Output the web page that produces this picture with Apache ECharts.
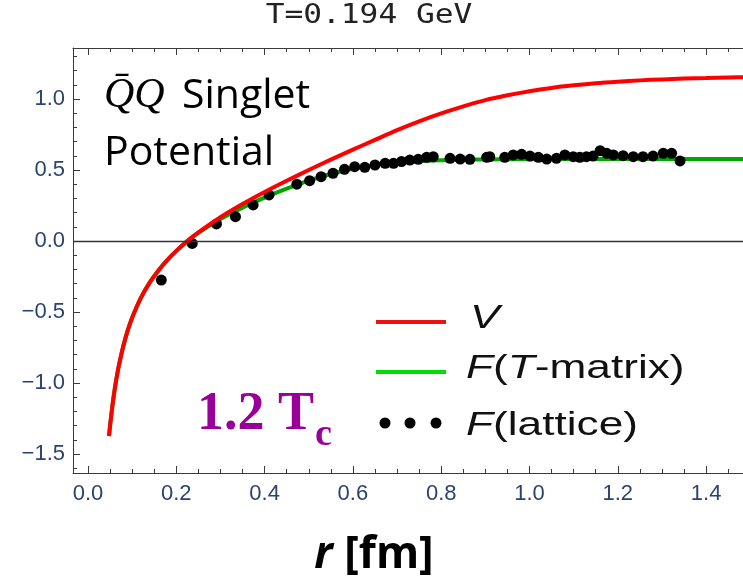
<!DOCTYPE html>
<html><head><meta charset="utf-8">
<script src="https://cdn.jsdelivr.net/npm/echarts@6/dist/echarts.min.js"></script>
<style>html,body{margin:0;padding:0;background:#fff}#c{width:743px;height:579px}</style>
</head><body><div id="c"></div>
<script>
// ---- data ----
const rV = [0.0476, 0.05, 0.055, 0.06, 0.065, 0.07, 0.08, 0.09, 0.10, 0.12, 0.14, 0.16, 0.18, 0.20, 0.225, 0.25, 0.30, 0.35, 0.40, 0.45, 0.50, 0.55, 0.60, 0.65, 0.70, 0.75, 0.80, 0.85, 0.90, 0.95, 1.00, 1.05, 1.10, 1.15, 1.20, 1.25, 1.30, 1.35, 1.40, 1.45, 1.50];
const V  = [-1.374, -1.300, -1.167, -1.055, -0.959, -0.876, -0.739, -0.630, -0.540, -0.399, -0.292, -0.206, -0.133, -0.070, -0.001, 0.060, 0.167, 0.260, 0.345, 0.424, 0.500, 0.573, 0.643, 0.712, 0.780, 0.842, 0.898, 0.948, 0.992, 1.026, 1.055, 1.078, 1.096, 1.111, 1.122, 1.131, 1.138, 1.144, 1.148, 1.152, 1.153];

const rF = [0.0476, 0.05, 0.055, 0.06, 0.065, 0.07, 0.08, 0.09, 0.10, 0.12, 0.14, 0.16, 0.18, 0.20, 0.225, 0.25, 0.30, 0.35, 0.40, 0.45, 0.50, 0.55, 0.60, 0.65, 0.70, 0.75, 0.80, 0.85, 0.90, 1.00, 1.20, 1.50];
const F  = [-1.374, -1.300, -1.167, -1.055, -0.959, -0.876, -0.739, -0.630, -0.540, -0.399, -0.292, -0.206, -0.133, -0.070, -0.001, 0.058, 0.155, 0.235, 0.305, 0.368, 0.425, 0.472, 0.508, 0.534, 0.551, 0.562, 0.568, 0.572, 0.574, 0.576, 0.577, 0.578];

const rLat = [0.166, 0.236, 0.291, 0.334, 0.374, 0.41, 0.473, 0.502, 0.528, 0.555, 0.581, 0.604, 0.627, 0.65, 0.673, 0.692, 0.710, 0.729, 0.748, 0.767, 0.782, 0.820, 0.843, 0.865, 0.903, 0.910, 0.944, 0.963, 0.982, 1.001, 1.020, 1.039, 1.061, 1.080, 1.099, 1.114, 1.129, 1.144, 1.160, 1.175, 1.190, 1.212, 1.235, 1.257, 1.280, 1.303, 1.322, 1.341];
const Flat = [-0.275, -0.017, 0.12, 0.171, 0.254, 0.324, 0.40, 0.425, 0.453, 0.477, 0.505, 0.523, 0.519, 0.535, 0.547, 0.547, 0.559, 0.570, 0.575, 0.589, 0.594, 0.582, 0.577, 0.575, 0.589, 0.594, 0.589, 0.606, 0.610, 0.598, 0.589, 0.577, 0.582, 0.606, 0.594, 0.589, 0.594, 0.598, 0.636, 0.617, 0.606, 0.601, 0.594, 0.594, 0.598, 0.617, 0.617, 0.564];

const xMajorTicks = [0, 0.2, 0.4, 0.6, 0.8, 1.0, 1.2, 1.4];
const xMinorTicks = [0.05, 0.1, 0.15, 0.25, 0.3, 0.35, 0.45, 0.5, 0.55, 0.65, 0.7, 0.75, 0.85, 0.9, 0.95, 1.05, 1.1, 1.15, 1.25, 1.3, 1.35, 1.45];
const yMajorTicks = [-1.5, -1.0, -0.5, 0, 0.5, 1.0];
const yMinorTicks = [-1.6, -1.4, -1.3, -1.2, -1.1, -0.9, -0.8, -0.7, -0.6, -0.4, -0.3, -0.2, -0.1, 0.1, 0.2, 0.3, 0.4, 0.6, 0.7, 0.8, 0.9, 1.1, 1.2, 1.3];

const titleText = 'T=0.194 GeV';
const seriesNames = ['V', 'F(T-matrix)', 'F(lattice)'];

// ---- layout / style ----
const X_MIN = -0.034, X_MAX = 1.4836, Y_MIN = -1.634, Y_MAX = 1.359;
const frameColor = '#3a3a3a';
const tickLabelColor = '#2a4470';
const zip = (a, b) => a.map((v, i) => [v, b[i]]);

function xAx(pos, ticks, len, withLine, withLabels) {
  return {
    type: 'value', position: pos, min: X_MIN, max: X_MAX,
    axisLine: { show: withLine, onZero: false, lineStyle: { color: frameColor, width: 1 } },
    axisTick: { show: true, inside: true, length: len, customValues: ticks, lineStyle: { color: frameColor, width: 1 } },
    axisLabel: withLabels ? { show: true, customValues: ticks, formatter: v => v.toFixed(1), color: tickLabelColor,
      fontFamily: 'Liberation Sans', fontSize: 22, margin: 10 } : { show: false },
    splitLine: { show: false }
  };
}
function yAx(ticks, len, withLine, withLabels) {
  return {
    type: 'value', position: 'left', min: Y_MIN, max: Y_MAX,
    axisLine: { show: withLine, onZero: false, lineStyle: { color: frameColor, width: 1 } },
    axisTick: { show: true, inside: true, length: len, customValues: ticks, lineStyle: { color: frameColor, width: 1 } },
    axisLabel: withLabels ? { show: true, customValues: ticks,
      formatter: v => (v < 0 ? '\u2212' : '') + Math.abs(v).toFixed(1), color: tickLabelColor,
      fontFamily: 'Liberation Sans', fontSize: 22, margin: 8 } : { show: false },
    splitLine: { show: false }
  };
}

const chart = echarts.init(document.getElementById('c'), null, { renderer: 'canvas' });
const legX = 376, legTextX = 468;
const richLeg = {
  i: { fontStyle: 'italic', fontSize: 33, fontFamily: 'Liberation Sans', fill: '#111' },
  n: { fontSize: 33, fontFamily: 'Liberation Sans', fill: '#111' }
};
chart.setOption({
  animation: false,
  backgroundColor: '#ffffff',
  grid: { left: 73, top: 48, right: 0, bottom: 106, containLabel: false },
  xAxis: [
    xAx('bottom', xMajorTicks, 7, true, true),
    xAx('bottom', xMinorTicks, 4, false, false),
    xAx('top', xMajorTicks, 7, true, false),
    xAx('top', xMinorTicks, 4, false, false)
  ],
  yAxis: [
    yAx(yMajorTicks, 7, true, true),
    yAx(yMinorTicks, 4, false, false)
  ],
  series: [
    { type: 'line', name: 'zero', data: [], z: 1, silent: true,
      markLine: { silent: true, symbol: 'none', label: { show: false }, animation: false,
        lineStyle: { color: '#333', width: 1.3, type: 'solid' }, data: [{ yAxis: 0 }] } },
    { type: 'line', name: seriesNames[1], data: zip(rF, F), symbol: 'none', smooth: 0.3,
      lineStyle: { color: '#00a800', width: 4 }, z: 2 },
    { type: 'scatter', name: seriesNames[2], data: zip(rLat, Flat), symbol: 'circle', symbolSize: 11,
      itemStyle: { color: '#000', opacity: 1 }, z: 3 },
    { type: 'line', name: seriesNames[0], data: zip(rV, V), symbol: 'none', smooth: 0.3,
      lineStyle: { color: '#ff0000', width: 4 }, z: 4 }
  ],
  graphic: [
    { type: 'text', x: 369, y: 16, scaleX: 1.2, style: { text: titleText, fill: '#222',
        font: '26px "DejaVu Sans Mono"', align: 'center', verticalAlign: 'middle' } },
    { type: 'text', x: 104, y: 96, style: { text: 'Q\u0304Q', fill: '#000',
        font: 'italic 42px "Liberation Serif"', align: 'left', verticalAlign: 'middle' } },
    { type: 'text', x: 182, y: 96, style: { text: 'Singlet', fill: '#000',
        font: '41px "Open Sans"', align: 'left', verticalAlign: 'middle' } },
    { type: 'text', x: 104, y: 153, style: { text: 'Potential', fill: '#000',
        font: '41px "Open Sans"', align: 'left', verticalAlign: 'middle' } },
    { type: 'text', x: 197, y: 415, style: { text: '1.2 T', fill: '#990099',
        font: 'bold 54px "Liberation Serif"', align: 'left', verticalAlign: 'middle' } },
    { type: 'text', x: 315, y: 435, style: { text: 'c', fill: '#990099',
        font: 'bold 38px "Liberation Serif"', align: 'left', verticalAlign: 'middle' } },
    // legend
    { type: 'line', shape: { x1: legX, y1: 322, x2: legX + 70, y2: 322 }, style: { stroke: '#f01010', lineWidth: 4 } },
    { type: 'line', shape: { x1: legX, y1: 372, x2: legX + 70, y2: 372 }, style: { stroke: '#00dd00', lineWidth: 4 } },
    { type: 'circle', shape: { cx: 385, cy: 423, r: 5.5 }, style: { fill: '#000' } },
    { type: 'circle', shape: { cx: 410, cy: 423, r: 5.5 }, style: { fill: '#000' } },
    { type: 'circle', shape: { cx: 436, cy: 423, r: 5.5 }, style: { fill: '#000' } },
    { type: 'text', x: legTextX + 2, y: 319, scaleX: 1.34, style: { text: 'V', fill: '#111',
        font: 'italic 33px "Liberation Sans"', align: 'left', verticalAlign: 'middle' } },
    { type: 'text', x: legTextX - 2, y: 369, scaleX: 1.34, style: { text: '{i|F}{n|(}{i|T}{n|-matrix)}', fill: '#111',
        font: '33px "Liberation Sans"', align: 'left', verticalAlign: 'middle', rich: richLeg } },
    { type: 'text', x: legTextX - 2, y: 426, scaleX: 1.34, style: { text: '{i|F}{n|(lattice)}', fill: '#111',
        font: '33px "Liberation Sans"', align: 'left', verticalAlign: 'middle', rich: richLeg } },
    // axis title
    { type: 'text', x: 374, y: 555, style: { text: '{r|r} {u|[fm]}', fill: '#000',
        font: 'bold 44px "Open Sans"', align: 'center', verticalAlign: 'middle',
        rich: { r: { fontStyle: 'italic', fontWeight: 'bold', fontSize: 44, fontFamily: 'Open Sans', fill: '#000' },
                u: { fontWeight: 'bold', fontSize: 44, fontFamily: 'Open Sans', fill: '#000' } } } }
  ]
});
</script></body></html>
